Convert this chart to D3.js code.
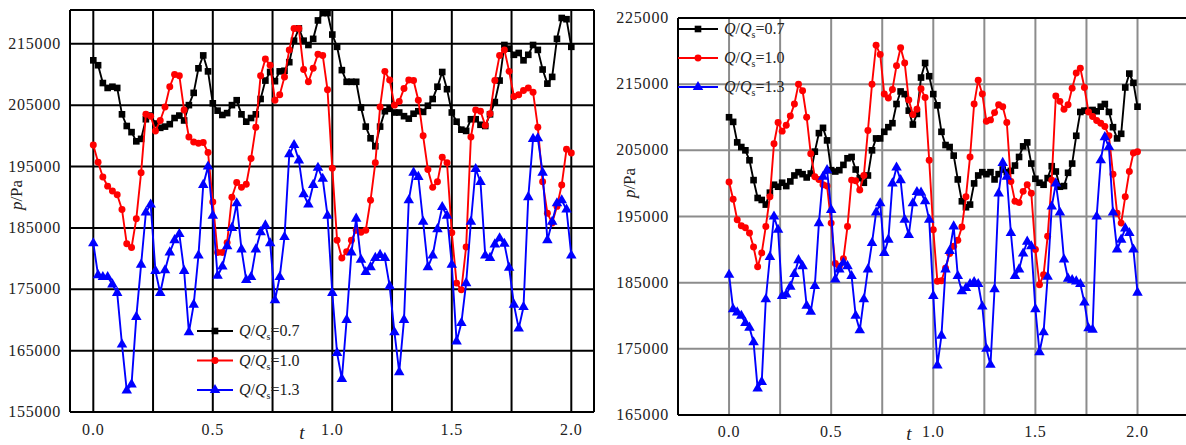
<!DOCTYPE html>
<html>
<head>
<meta charset="utf-8">
<script src="https://cdn.jsdelivr.net/npm/d3@7/dist/d3.min.js"></script>
<style>
  body { margin: 0; background: #fff; }
  svg { display: block; }
  text { font-family: "Liberation Serif", "DejaVu Serif", serif; fill: #222; }
</style>
</head>
<body>
<div id="chart"></div>
<script>
// Width and height
var width  = 1186;
var height = 445;

// sample times (every 0.02)
var times = d3.range(101).map(function(i){ return +(i * 0.02).toFixed(2); });

// pressure in kPa
// left panel
var leftBlack = [212.3,211.5,208.6,207.8,208.0,207.8,203.5,201.6,200.6,199.1,
  199.5,202.7,203.3,202.0,201.3,201.5,201.9,202.9,203.3,202.5,
  205.0,207.0,211.0,213.1,210.5,205.3,204.1,203.4,203.7,205.0,
  205.8,203.5,202.3,202.9,203.5,206.0,209.0,210.4,208.9,210.5,
  210.6,212.0,215.5,217.5,215.5,214.8,215.8,218.8,220.0,220.0,
  216.5,214.5,210.7,208.8,208.8,208.8,204.6,201.5,199.6,198.3,
  201.5,204.0,204.4,203.8,203.8,203.2,202.8,203.6,204.0,203.9,
  204.9,206.0,208.0,210.4,207.6,203.8,202.3,201.0,200.8,202.7,
  202.7,201.8,201.6,203.5,205.5,209.0,214.8,214.2,213.2,213.5,
  212.3,213.2,214.8,214.0,210.8,208.5,209.6,215.8,219.2,219.0,
  214.5];
var leftRed = [198.5,195.7,193.3,191.8,191.0,190.4,188.0,182.4,181.8,186.5,
  194.0,203.5,203.2,200.8,202.5,204.7,208.0,210.0,209.8,204.2,
  199.8,199.0,198.8,198.9,197.3,189.2,181.0,181.0,182.6,190.0,
  192.4,191.6,192.1,196.3,201.4,209.8,212.5,211.5,205.8,206.7,
  209.6,214.0,217.5,217.5,210.8,208.8,211.0,213.3,213.1,207.5,
  194.7,183.0,180.1,181.1,183.0,184.6,184.3,184.6,189.5,195.6,
  204.7,210.5,209.1,205.0,205.6,207.7,209.1,209.0,205.8,200.0,
  194.5,191.6,192.5,196.5,195.6,184.2,176.0,174.9,181.9,199.8,
  204.2,204.0,201.7,203.6,209.0,213.1,214.0,210.5,206.4,206.7,
  207.4,207.8,207.1,201.4,192.5,187.4,185.8,188.5,192.0,197.8,
  197.2];
var leftBlue = [182.5,177.3,177.0,177.0,175.8,174.4,166.0,158.5,159.5,170.5,
  179.0,187.5,188.8,178.0,174.4,178.1,181.0,183.0,184.0,178.0,
  168.0,172.5,180.5,192.0,195.0,187.0,177.2,178.7,182.0,185.0,
  189.0,181.5,176.5,177.0,181.5,184.3,185.4,182.5,173.2,177.0,
  183.5,197.0,198.5,196.0,190.5,188.8,192.0,194.8,193.0,187.0,
  174.4,164.6,160.4,170.0,181.0,186.5,179.8,177.8,178.6,180.1,
  180.6,180.1,175.5,168.0,161.5,170.0,189.5,194.0,193.3,186.0,
  178.6,180.5,184.8,188.4,187.0,179.0,166.5,169.5,176.0,186.0,
  194.6,192.5,180.5,180.1,182.3,183.3,182.4,178.5,172.5,168.6,
  172.1,190.0,199.5,199.6,194.0,183.0,186.0,189.0,189.5,188.0,
  180.5];

// right panel
var rightBlack = [210.0,209.3,206.2,205.5,205.0,203.5,200.5,197.8,197.5,196.8,
  198.6,199.8,199.5,200.1,199.6,200.3,201.2,201.7,201.4,200.9,
  201.5,204.8,207.6,208.4,206.5,202.0,201.8,202.0,202.8,203.8,
  204.0,202.1,200.8,200.1,201.2,205.0,206.8,206.8,207.8,208.5,
  209.1,212.0,213.9,213.5,211.0,208.9,210.5,216.0,218.2,216.2,
  213.5,211.8,207.8,205.8,205.5,204.2,200.6,197.3,196.4,196.8,
  200.0,201.2,201.7,201.4,201.7,200.6,201.4,202.1,201.7,201.9,
  202.7,204.0,205.6,206.2,203.0,200.7,200.1,199.8,200.8,202.6,
  201.8,199.5,199.6,201.6,203.0,207.2,210.8,211.0,211.0,211.1,
  210.9,211.6,212.0,210.8,208.5,206.8,207.5,214.5,216.6,215.2,
  211.6];
var rightRed = [200.2,197.6,194.5,193.6,193.3,192.5,190.4,187.4,189.5,193.5,
  198.0,206.0,209.2,207.9,208.8,210.2,212.0,215.0,214.0,210.0,
  204.5,201.0,200.6,199.8,199.6,194.0,187.9,187.5,188.6,193.5,
  200.5,200.4,199.0,201.2,208.0,215.0,220.9,219.5,213.5,212.9,
  214.2,217.8,220.5,218.2,212.6,210.4,211.2,214.3,213.0,203.5,
  193.0,185.2,185.3,187.2,189.4,190.5,191.4,193.4,198.0,204.0,
  212.0,215.6,213.5,209.4,209.6,210.7,211.9,211.6,209.2,200.3,
  197.3,197.1,198.8,199.8,198.5,190.0,184.7,186.2,192.0,200.5,
  213.2,212.4,211.2,211.9,214.4,216.7,217.4,214.5,210.8,210.1,
  209.5,209.1,208.6,207.2,201.4,195.5,194.0,198.0,201.8,204.6,
  204.8];
var rightBlue = [186.2,181.0,180.5,180.0,178.9,178.2,176.0,169.0,170.0,182.5,
  188.9,195.0,193.0,183.0,183.2,184.4,186.3,188.4,187.5,181.5,
  180.6,184.5,194.0,201.0,202.0,196.0,185.5,187.0,188.0,187.5,
  186.0,180.0,177.8,182.5,187.0,191.0,195.6,197.0,189.5,191.5,
  200.0,202.4,200.5,194.5,192.2,197.0,198.7,198.6,197.3,194.5,
  183.0,172.5,177.0,187.0,189.8,193.5,186.0,183.7,184.2,184.8,
  185.1,184.8,181.4,175.0,172.6,184.0,198.5,203.1,201.0,192.5,
  186.0,187.0,189.4,191.2,190.5,181.0,174.5,177.5,185.9,196.5,
  200.0,195.6,188.5,185.6,185.4,185.2,184.8,182.0,178.1,177.9,
  195.0,203.5,207.0,205.5,195.6,190.0,191.5,193.2,192.5,190.0,
  183.5];

// tick labels
var xTickLabels = [0.0, 0.5, 1.0, 1.5, 2.0];
var xGridValues = [0, 0.25, 0.5, 0.75, 1.0, 1.25, 1.5, 1.75, 2.0];
var leftYTicks  = [155000,165000,175000,185000,195000,205000,215000];
var rightYTicks = [165000,175000,185000,195000,205000,215000,225000];

var seriesNames = ["0.7", "1.0", "1.3"];
var seriesColors = ["#000000", "#ff0000", "#0000ff"];
var seriesSymbols = [d3.symbolSquare, d3.symbolCircle, d3.symbolTriangle];
var seriesSizes = [44, 38, 48];

var svg = d3.select("#chart").append("svg")
    .attr("width", width)
    .attr("height", height);

function drawPanel(cfg) {
    var x = d3.scaleLinear().domain(cfg.xDomain).range([cfg.left, cfg.right]);
    var y = d3.scaleLinear().domain(cfg.yDomain).range([cfg.bottom, cfg.top]);

    var g = svg.append("g").attr("class", cfg.id);

    g.append("clipPath").attr("id", "clip-" + cfg.id)
        .append("rect")
        .attr("x", cfg.left).attr("y", cfg.top - 4)
        .attr("width", cfg.right - cfg.left).attr("height", cfg.bottom - cfg.top + 4);

    // grid
    g.selectAll(".vgrid").data(xGridValues).enter().append("line")
        .attr("x1", function(d){ return x(d); })
        .attr("x2", function(d){ return x(d); })
        .attr("y1", cfg.top).attr("y2", cfg.bottom)
        .style("stroke", cfg.gridColor).style("stroke-width", cfg.gridWidth);
    g.selectAll(".hgrid").data(cfg.yTicks).enter().append("line")
        .attr("x1", cfg.left).attr("x2", cfg.right)
        .attr("y1", function(d){ return y(d); })
        .attr("y2", function(d){ return y(d); })
        .style("stroke", cfg.gridColor).style("stroke-width", cfg.gridWidth);

    // frame
    g.append("line").attr("x1", cfg.left).attr("x2", cfg.left)
        .attr("y1", cfg.top).attr("y2", cfg.bottom)
        .style("stroke", "#000").style("stroke-width", 2);
    g.append("line").attr("x1", cfg.left).attr("x2", cfg.right)
        .attr("y1", cfg.bottom).attr("y2", cfg.bottom)
        .style("stroke", "#000").style("stroke-width", 2);
    g.append("line").attr("x1", cfg.left).attr("x2", cfg.right)
        .attr("y1", cfg.top).attr("y2", cfg.top)
        .style("stroke", "#000").style("stroke-width", 2);
    if (cfg.rightBorder) {
        g.append("line").attr("x1", cfg.right).attr("x2", cfg.right)
            .attr("y1", cfg.top).attr("y2", cfg.bottom)
            .style("stroke", "#000").style("stroke-width", 2);
    }

    // tick labels
    g.selectAll(".ylab").data(cfg.yTicks).enter().append("text")
        .attr("x", cfg.left - 9)
        .attr("y", function(d){ return y(d) + 5; })
        .attr("text-anchor", "end")
        .style("font-size", "16px")
        .style("letter-spacing", "0.8px")
        .text(function(d){ return d; });
    g.selectAll(".xlab").data(xTickLabels).enter().append("text")
        .attr("x", function(d){ return x(d); })
        .attr("y", cfg.bottom + cfg.xLabelDy)
        .attr("text-anchor", "middle")
        .style("font-size", "16px")
        .style("letter-spacing", "0.8px")
        .text(function(d){ return d.toFixed(1); });

    // axis titles
    g.append("text")
        .attr("transform", "translate(" + cfg.yTitleX + "," + cfg.yTitleY + ") rotate(-90)")
        .attr("text-anchor", "middle")
        .style("font-size", "17px")
        .html('<tspan font-style="italic">p</tspan>/Pa');
    g.append("text")
        .attr("x", cfg.tTitleX).attr("y", cfg.tTitleY)
        .attr("text-anchor", "middle")
        .style("font-size", "19px")
        .style("font-style", "italic")
        .text("t");

    // series
    var line = d3.line()
        .x(function(d, i){ return x(times[i]); })
        .y(function(d){ return y(d * 1000); });

    var plot = g.append("g").attr("clip-path", "url(#clip-" + cfg.id + ")");
    cfg.series.forEach(function(vals, k){
        plot.append("path")
            .datum(vals)
            .attr("d", line)
            .style("fill", "none")
            .style("stroke", seriesColors[k])
            .style("stroke-width", 1.9);
        plot.selectAll(".m" + k).data(vals).enter().append("path")
            .attr("transform", function(d, i){ return "translate(" + x(times[i]) + "," + y(d * 1000) + ")"; })
            .attr("d", d3.symbol().type(seriesSymbols[k]).size(seriesSizes[k]))
            .style("fill", seriesColors[k]);
    });

    // legend
    var lg = g.append("g").attr("transform", "translate(" + cfg.legendX + "," + cfg.legendY + ")");
    seriesNames.forEach(function(name, k){
        var ly = k * cfg.legendStep;
        lg.append("line")
            .attr("x1", 0).attr("x2", cfg.legendLen)
            .attr("y1", ly).attr("y2", ly)
            .style("stroke", seriesColors[k]).style("stroke-width", 1.9);
        lg.append("path")
            .attr("transform", "translate(" + (cfg.legendLen / 2) + "," + ly + ")")
            .attr("d", d3.symbol().type(seriesSymbols[k]).size(seriesSizes[k]))
            .style("fill", seriesColors[k]);
        lg.append("text")
            .attr("x", cfg.legendLen + 6)
            .attr("y", ly + 5)
            .style("font-size", "16px")
            .html('<tspan font-style="italic">Q</tspan>/<tspan font-style="italic">Q</tspan>' +
                  '<tspan dy="4" font-size="10px">s</tspan><tspan dy="-4">=' + name + '</tspan>');
    });
}

drawPanel({
    id: "leftPanel",
    left: 70, right: 594, top: 10, bottom: 412,
    xDomain: [-0.0975, 2.095], yDomain: [155000, 220500],
    yTicks: leftYTicks,
    gridColor: "#000", gridWidth: 2, rightBorder: true,
    xLabelDy: 23,
    yTitleX: 22, yTitleY: 195,
    tTitleX: 302, tTitleY: 439,
    series: [leftBlack, leftRed, leftBlue],
    legendX: 197, legendY: 331, legendStep: 29.5, legendLen: 36
});

drawPanel({
    id: "rightPanel",
    left: 678, right: 1190, top: 18, bottom: 415,
    xDomain: [-0.25, 2.257], yDomain: [165000, 225000],
    yTicks: rightYTicks,
    gridColor: "#8c8c8c", gridWidth: 2, rightBorder: false,
    xLabelDy: 22,
    yTitleX: 635, yTitleY: 183,
    tTitleX: 909, tTitleY: 440,
    series: [rightBlack, rightRed, rightBlue],
    legendX: 678, legendY: 29, legendStep: 29, legendLen: 40
});
</script>
</body>
</html>
